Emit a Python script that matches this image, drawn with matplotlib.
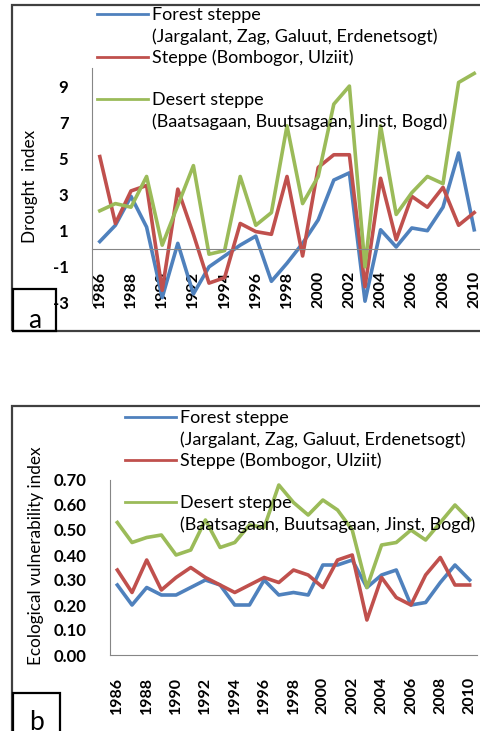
import matplotlib
matplotlib.use('Agg')
import matplotlib.pyplot as plt
from matplotlib.lines import Line2D
from matplotlib.patches import Rectangle

years = list(range(1986, 2011))
tick_years = years[::2]

# (a) drought index
drought_forest = [0.4, 1.3, 2.9, 1.2, -2.7, 0.3, -2.5, -1.0, -0.4, 0.2, 0.7, -1.8, -0.8, 0.3,
                  1.6, 3.8, 4.2, -2.9, 1.05, 0.1, 1.15, 1.0, 2.3, 5.3, 1.05]
drought_steppe = [5.1, 1.4, 3.2, 3.5, -2.3, 3.3, 0.8, -1.9, -1.6, 1.4, 0.95, 0.8, 4.0, -0.4,
                  4.5, 5.2, 5.2, -2.1, 3.9, 0.5, 2.9, 2.3, 3.4, 1.3, 2.0]
drought_desert = [2.1, 2.5, 2.3, 4.0, 0.2, 2.4, 4.6, -0.3, -0.1, 4.0, 1.3, 2.0, 6.8, 2.5,
                  4.0, 8.0, 9.0, -1.0, 6.8, 1.9, 3.1, 4.0, 3.6, 9.2, 9.7]

# (b) ecological vulnerability index
evi_forest = [0.28, 0.20, 0.27, 0.24, 0.24, 0.27, 0.30, 0.28, 0.20, 0.20, 0.30, 0.24, 0.25,
              0.24, 0.36, 0.36, 0.38, 0.27, 0.32, 0.34, 0.20, 0.21, 0.29, 0.36, 0.30]
evi_steppe = [0.34, 0.25, 0.38, 0.26, 0.31, 0.35, 0.31, 0.28, 0.25, 0.28, 0.31, 0.29, 0.34,
              0.32, 0.27, 0.38, 0.40, 0.14, 0.31, 0.23, 0.20, 0.32, 0.39, 0.28, 0.28]
evi_desert = [0.53, 0.45, 0.47, 0.48, 0.40, 0.42, 0.54, 0.43, 0.45, 0.52, 0.51, 0.68, 0.61,
              0.56, 0.62, 0.58, 0.50, 0.27, 0.44, 0.45, 0.50, 0.46, 0.53, 0.60, 0.54]

series_names = ['Forest steppe', '(Jargalant, Zag, Galuut, Erdenetsogt)',
                'Steppe (Bombogor, Ulziit)', '',
                'Desert steppe', '(Baatsagaan, Buutsagaan, Jinst, Bogd)']

BLUE = '#4F81BD'
RED = '#C0504D'
GREEN = '#9BBB59'
GRAY = '#868686'

plt.rcParams['font.family'] = ['Lato', 'DejaVu Sans']

W, H = 481, 731
fig = plt.figure(figsize=(W / 100, H / 100), dpi=100)


def box(x0, y0, x1, y1):
    # pixel box (top-left origin) -> figure fraction rect
    return [x0 / W, 1 - y1 / H, (x1 - x0) / W, (y1 - y0) / H]


def draw_panel(rect, f, s, d, ylim, yticks, yfmt, ylabel, ylabel_xy, leg_xy):
    ax = fig.add_axes(rect)
    # x axis crosses at zero (set before ticks, it resets them)
    ax.spines['bottom'].set_position(('data', 0))
    ax.plot(years, f, color=BLUE, lw=2.6)
    ax.plot(years, s, color=RED, lw=2.6)
    ax.plot(years, d, color=GREEN, lw=2.6)
    ax.set_xlim(1985.5, 2010.5)
    ax.set_ylim(*ylim)
    ax.set_yticks(yticks)
    ax.set_yticklabels([yfmt.format(v) for v in yticks], fontsize=12, fontweight='bold')
    ax.set_xticks(tick_years)
    ax.set_xticklabels([str(y) for y in tick_years], rotation=90, fontsize=11.5,
                       fontweight='bold')
    ax.tick_params(axis='both', length=0)
    ax.tick_params(axis='y', pad=17)
    ax.tick_params(axis='x', pad=16)
    for sp in ['top', 'right']:
        ax.spines[sp].set_visible(False)
    ax.spines['left'].set_color(GRAY)
    ax.spines['bottom'].set_color(GRAY)
    ax.patch.set_alpha(0)
    fig.text(ylabel_xy[0] / W, 1 - ylabel_xy[1] / H, ylabel, rotation=90,
             ha='center', va='center', fontsize=12.3)

    handles = [Line2D([], [], color=BLUE, lw=2),
               Line2D([], [], color='none'),
               Line2D([], [], color=RED, lw=2),
               Line2D([], [], color='none'),
               Line2D([], [], color=GREEN, lw=2),
               Line2D([], [], color='none')]
    fig.legend(handles, series_names, loc='upper left',
               bbox_to_anchor=(leg_xy[0] / W, 1 - leg_xy[1] / H),
               frameon=False, fontsize=13, handlelength=2.8, handletextpad=0.22,
               labelspacing=0.28, borderpad=0, borderaxespad=0)
    return ax


draw_panel(box(92, 68, 482, 303), drought_forest, drought_steppe, drought_desert,
           (-3, 10), [-3, -1, 1, 3, 5, 7, 9], '{:d}', 'Drought  index',
           (30, 186), (97, 7))

draw_panel(box(110, 480, 477, 655), evi_forest, evi_steppe, evi_desert,
           (0, 0.7), [0.0, 0.1, 0.2, 0.3, 0.4, 0.5, 0.6, 0.7], '{:.2f}',
           'Ecological vulnerability index', (36, 556), (125, 410))

# outer frames and panel letters
for r in [box(12, 5, 490, 331), box(12, 406, 490, 740)]:
    fig.patches.append(Rectangle((r[0], r[1]), r[2], r[3], transform=fig.transFigure,
                                 fill=False, edgecolor='#404040', lw=1.6))
for r, letter, cy in [(box(13, 289, 56, 331), 'a', 321), (box(13, 693, 60, 740), 'b', 722)]:
    fig.patches.append(Rectangle((r[0], r[1]), r[2], r[3], transform=fig.transFigure,
                                 fill=False, edgecolor='black', lw=1.6))
    fig.text(r[0] + r[2] / 2, 1 - cy / H, letter, ha='center', va='center', fontsize=19)

fig.savefig('out.png', dpi=100)
